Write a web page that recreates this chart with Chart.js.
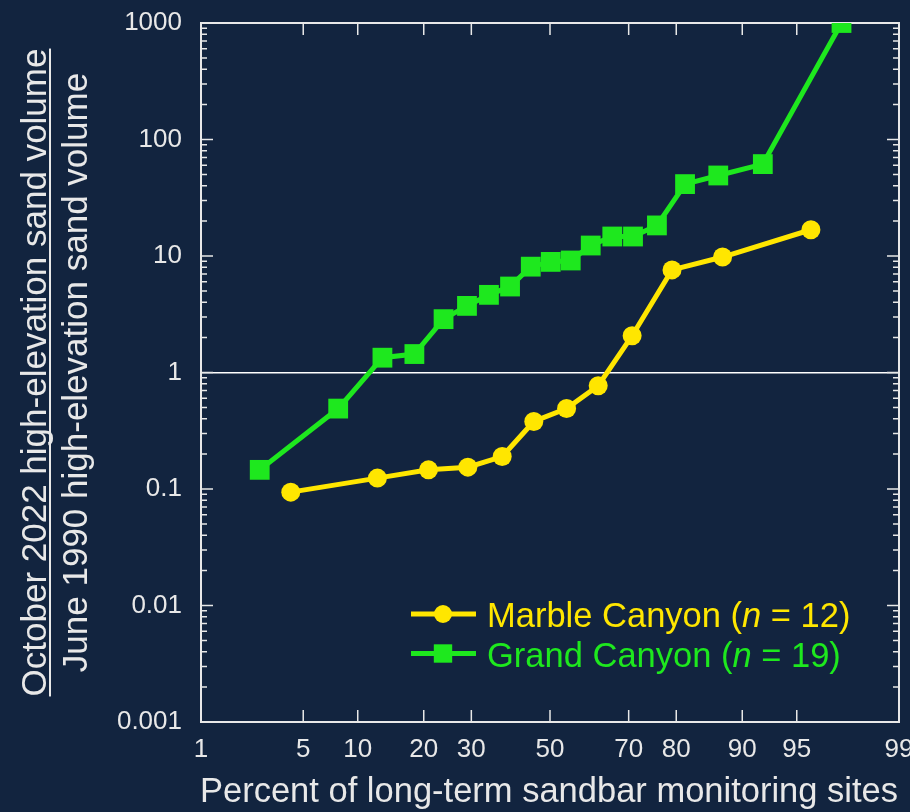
<!DOCTYPE html>
<html>
<head>
<meta charset="utf-8">
<script src="https://cdn.jsdelivr.net/npm/chart.js@4/dist/chart.umd.min.js"></script>
<style>
  html, body { margin: 0; padding: 0; background: #12243f; }
  canvas { display: block; }
</style>
</head>
<body>
<canvas id="grafica" width="910" height="812"></canvas>
<script>
// Porcentaje de sitios (posición de probabilidad) y razón de volumen 2022/1990
const marblePct = [4.2, 12.5, 20.9, 29.2, 37.5, 45.7, 54.4, 62.6, 70.8, 79.2, 87.5, 95.9];
const marbleRatio = [0.094, 0.124, 0.146, 0.154, 0.19, 0.38, 0.49, 0.77, 2.07, 7.6, 9.8, 16.8];

const grandPct = [2.65, 7.9, 13.2, 18.3, 23.9, 29.0, 34.2, 39.5, 44.9, 50.2, 55.5, 60.7, 66.1, 71.0, 76.2, 81.6, 86.9, 92.2, 97.4];
const grandRatio = [0.146, 0.49, 1.34, 1.44, 2.87, 3.73, 4.64, 5.47, 8.1, 8.9, 9.15, 12.3, 14.7, 14.7, 18.3, 41.4, 49.1, 61.5, 1000];

const seriesNames = ["Marble Canyon", "Grand Canyon"];
const xTickValues = [1, 5, 10, 20, 30, 50, 70, 80, 90, 95, 99];
const yTickValues = [0.001, 0.01, 0.1, 1, 10, 100, 1000];

const xTitle = "Percent of long-term sandbar monitoring sites";
const yTitleTop = "October 2022 high-elevation sand volume";
const yTitleBottom = "June 1990 high-elevation sand volume";

const fondo = "#12243f";
const colorEje = "#e8e8e8";
const amarillo = "#ffe600";
const verde = "#1ee81e";
const fuente = '"Liberation Sans", Arial, sans-serif';

// cuantil de la normal estándar (Acklam)
function probit(p) {
  const a = [-3.969683028665376e+01, 2.209460984245205e+02, -2.759285104469687e+02, 1.383577518672690e+02, -3.066479806614716e+01, 2.506628277459239e+00];
  const b = [-5.447609879822406e+01, 1.615858368580409e+02, -1.556989798598866e+02, 6.680131188771972e+01, -1.328068155288572e+01];
  const c = [-7.784894002430293e-03, -3.223964580411365e-01, -2.400758277161838e+00, -2.549732539343734e+00, 4.374664141464968e+00, 2.938163982698783e+00];
  const d = [7.784695709041462e-03, 3.224671290700398e-01, 2.445134137142996e+00, 3.754408661907416e+00];
  const pLow = 0.02425;
  let q, r;
  if (p < pLow) {
    q = Math.sqrt(-2 * Math.log(p));
    return (((((c[0] * q + c[1]) * q + c[2]) * q + c[3]) * q + c[4]) * q + c[5]) / ((((d[0] * q + d[1]) * q + d[2]) * q + d[3]) * q + 1);
  }
  if (p <= 1 - pLow) {
    q = p - 0.5;
    r = q * q;
    return (((((a[0] * r + a[1]) * r + a[2]) * r + a[3]) * r + a[4]) * r + a[5]) * q / (((((b[0] * r + b[1]) * r + b[2]) * r + b[3]) * r + b[4]) * r + 1);
  }
  q = Math.sqrt(-2 * Math.log(1 - p));
  return -(((((c[0] * q + c[1]) * q + c[2]) * q + c[3]) * q + c[4]) * q + c[5]) / ((((d[0] * q + d[1]) * q + d[2]) * q + d[3]) * q + 1);
}

function normCdf(z) {
  const t = 1 / (1 + 0.3275911 * Math.abs(z) / Math.SQRT2);
  const y = 1 - (((((1.061405429 * t - 1.453152027) * t) + 1.421413741) * t - 0.284496736) * t + 0.254829592) * t * Math.exp(-z * z / 2);
  return z >= 0 ? (1 + y) / 2 : (1 - y) / 2;
}

// escala de probabilidad normal (eje x en porcentaje)
class ProbabilityScale extends Chart.Scale {
  static id = "probability";
  static defaults = {};

  determineDataLimits() {
    const { min, max } = this.getMinMax(false);
    this.min = this.options.min ?? min;
    this.max = this.options.max ?? max;
  }
  buildTicks() {
    return xTickValues.map((value) => ({ value }));
  }
  getLabelForValue(value) {
    return String(value);
  }
  configure() {
    super.configure();
    this._zMin = probit(this.min / 100);
    this._zMax = probit(this.max / 100);
  }
  getPixelForValue(value) {
    return this.getPixelForDecimal((probit(value / 100) - this._zMin) / (this._zMax - this._zMin));
  }
  getValueForPixel(pixel) {
    const z = this._zMin + this.getDecimalForPixel(pixel) * (this._zMax - this._zMin);
    return normCdf(z) * 100;
  }
  getPadding() {
    return { left: 0, top: 0, right: 0, bottom: 0 };
  }
}
Chart.register(ProbabilityScale);

const pares = (xs, ys) => xs.map((x, i) => ({ x, y: ys[i] }));

// sin relleno extra por las etiquetas de los extremos
function sinRelleno(s) {
  s.paddingLeft = 0;
  s.paddingRight = 0;
  s.paddingTop = 0;
  s.paddingBottom = 0;
}

// marco con marcas hacia adentro en los cuatro lados
const marco = {
  id: "marco",
  beforeDatasetsDraw(chart) {
    const { ctx, chartArea: a, scales } = chart;
    const x = scales.x;
    const y = scales.y;
    ctx.save();
    ctx.strokeStyle = colorEje;
    ctx.lineWidth = 2;
    ctx.strokeRect(a.left, a.top, a.right - a.left, a.bottom - a.top);
    ctx.lineWidth = 1.5;
    ctx.beginPath();
    xTickValues.forEach((v) => {
      const px = x.getPixelForValue(v);
      ctx.moveTo(px, a.bottom);
      ctx.lineTo(px, a.bottom - 12);
      ctx.moveTo(px, a.top);
      ctx.lineTo(px, a.top + 12);
    });
    yTickValues.slice(0, -1).forEach((dec) => {
      for (let m = 1; m <= 9; m++) {
        const py = y.getPixelForValue(m * dec);
        const largo = m === 1 ? 12 : 6;
        ctx.moveTo(a.left, py);
        ctx.lineTo(a.left + largo, py);
        ctx.moveTo(a.right, py);
        ctx.lineTo(a.right - largo, py);
      }
    });
    ctx.stroke();
    ctx.restore();
  }
};

// títulos de ejes: el del eje y es una fracción
const titulos = {
  id: "titulos",
  afterDraw(chart) {
    const { ctx, chartArea: a } = chart;
    ctx.save();
    ctx.fillStyle = colorEje;
    ctx.textAlign = "center";
    ctx.textBaseline = "alphabetic";
    ctx.font = "34.5px " + fuente;
    ctx.fillText(xTitle, (a.left + a.right) / 2 - 1, 802);

    ctx.font = "35px " + fuente;
    const cy = (a.top + a.bottom) / 2;
    ctx.translate(0, cy);
    ctx.rotate(-Math.PI / 2);
    ctx.fillText(yTitleTop, 0, 46);
    ctx.fillText(yTitleBottom, 0, 87);
    const ancho = ctx.measureText(yTitleTop).width;
    ctx.fillRect(-ancho / 2, 49, ancho, 2);
    ctx.restore();
  }
};

// leyenda con la n en cursiva
const leyenda = {
  id: "leyenda",
  afterDraw(chart) {
    const ctx = chart.ctx;
    chart.data.datasets.forEach((ds, i) => {
      const yLinea = 614 + i * 39.5;
      const yTexto = 627 + i * 39.5;
      ctx.save();
      ctx.strokeStyle = ds.borderColor;
      ctx.lineWidth = ds.borderWidth;
      ctx.beginPath();
      ctx.moveTo(411, yLinea);
      ctx.lineTo(476, yLinea);
      ctx.stroke();
      ctx.fillStyle = ds.pointBackgroundColor;
      Chart.helpers.drawPoint(ctx, {
        pointStyle: ds.pointStyle,
        radius: ds.pointStyle === "rect" ? 13 : 9,
        rotation: 0,
        borderWidth: 0
      }, 443, yLinea);

      const partes = [
        [ds.label + " (", "normal"],
        ["n", "italic"],
        [" = " + ds.data.length + ")", "normal"]
      ];
      let xt = 487;
      ctx.textBaseline = "alphabetic";
      ctx.textAlign = "left";
      partes.forEach(([txt, estilo]) => {
        ctx.font = (estilo === "italic" ? "italic " : "") + "34.5px " + fuente;
        ctx.fillText(txt, xt, yTexto);
        xt += ctx.measureText(txt).width;
      });
      ctx.restore();
    });
  }
};

const fondoPlugin = {
  id: "fondo",
  beforeDraw(chart) {
    const ctx = chart.ctx;
    ctx.save();
    ctx.fillStyle = fondo;
    ctx.fillRect(0, 0, chart.width, chart.height);
    ctx.restore();
  }
};

const config = {
  type: "line",
  data: {
    datasets: [
      {
        label: seriesNames[0],
        data: pares(marblePct, marbleRatio),
        borderColor: amarillo,
        backgroundColor: amarillo,
        pointBackgroundColor: amarillo,
        pointBorderColor: amarillo,
        borderWidth: 5,
        pointStyle: "circle",
        pointRadius: 9.5,
        pointBorderWidth: 0
      },
      {
        label: seriesNames[1],
        data: pares(grandPct, grandRatio),
        borderColor: verde,
        backgroundColor: verde,
        pointBackgroundColor: verde,
        pointBorderColor: verde,
        borderWidth: 5,
        pointStyle: "rect",
        pointRadius: 14,
        pointBorderWidth: 0
      }
    ]
  },
  options: {
    responsive: false,
    devicePixelRatio: 1,
    animation: false,
    layout: { autoPadding: false, padding: { top: 23, right: 11, bottom: 0, left: 0 } },
    plugins: {
      legend: { display: false },
      tooltip: { enabled: false }
    },
    scales: {
      x: {
        type: "probability",
        min: 1,
        max: 99,
        grid: { display: false },
        border: { display: false },
        ticks: {
          autoSkip: false,
          maxRotation: 0,
          padding: 4,
          color: colorEje,
          font: { family: fuente, size: 26 }
        },
        afterFit: (s) => { s.height = 90; sinRelleno(s); }
      },
      y: {
        type: "logarithmic",
        min: 0.001,
        max: 1000,
        afterBuildTicks: (s) => { s.ticks = yTickValues.map((v) => ({ value: v, major: true })); },
        grid: {
          drawTicks: false,
          lineWidth: 1.5,
          color: (c) => (c.tick && c.tick.value === 1 ? "#ffffff" : "rgba(0,0,0,0)")
        },
        border: { display: false },
        ticks: {
          autoSkip: false,
          padding: 19,
          color: colorEje,
          font: { family: fuente, size: 26 },
          callback: (v) => String(v)
        },
        afterFit: (s) => { s.width = 201; sinRelleno(s); }
      }
    }
  },
  plugins: [fondoPlugin, marco, titulos, leyenda]
};

const grafica = new Chart(document.getElementById("grafica"), config);
</script>
</body>
</html>
